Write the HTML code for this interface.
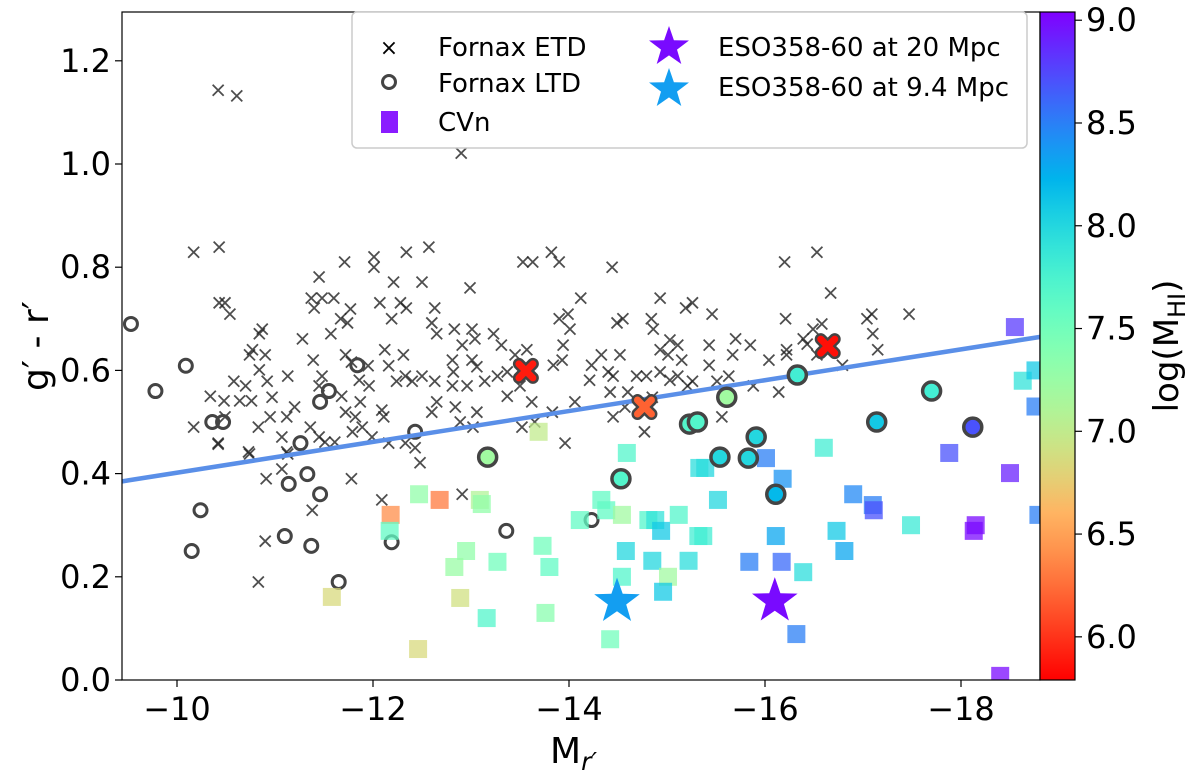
<!DOCTYPE html>
<html><head><meta charset="utf-8"><style>
html,body{margin:0;padding:0;background:#fff}
svg text{font-family:"DejaVu Sans","Liberation Sans",sans-serif;fill:#000}
</style></head><body>
<svg id="chart" width="1200" height="775" xmlns="http://www.w3.org/2000/svg">
<defs><linearGradient id="cbgrad" x1="0" y1="1" x2="0" y2="0"></linearGradient></defs>
<g id="marks"></g>
<rect x="122" y="12" width="918" height="668" fill="none" stroke="#000" stroke-width="1.2"/>
<g id="axes"></g>
<g>
<rect x="352" y="12" width="675" height="136" rx="5" fill="#fff" fill-opacity="0.85" stroke="#ccc" stroke-width="1.5"/>
<g><text x="389" y="55" font-size="22" text-anchor="middle" fill="#333">×</text><text x="438" y="56" font-size="26">Fornax ETD</text></g>
<g><circle cx="389" cy="82" r="6.5" fill="none" stroke="#444" stroke-width="3"/><text x="438" y="92" font-size="26">Fornax LTD</text></g>
<g><rect x="381" y="111" width="17" height="22" fill="#8a1cff"/><text x="438" y="131" font-size="26">CVn</text></g>
<g><polygon id="ls1" fill="#8000ff"/><text x="718" y="56" font-size="26">ESO358-60 at 20 Mpc</text></g>
<g><polygon id="ls2" fill="#1e96f0"/><text x="718" y="96" font-size="26">ESO358-60 at 9.4 Mpc</text></g>
</g>
</svg>
<script>
const etd=[[-10.17,.829],[-10.43,.839],[-10.43,.731],[-10.49,.731],[-10.54,.709],[-10.87,.680],[-10.84,.671],[-10.77,.640],[-10.74,.630],[-10.90,.630],[-10.84,.601],[-10.92,.579],[-10.58,.579],[-10.70,.570],[-10.34,.550],[-10.48,.541],[-10.64,.541],[-10.76,.541],[-10.97,.548],[-10.17,.490],[-10.42,.459],[-10.73,.442],[-10.49,.510],[-10.83,.490],[-10.95,.510],[-11.13,.589],[-11.12,.510],[-11.20,.529],[-11.07,.471],[-11.12,.442],[-11.28,.661],[-11.39,.620],[-11.48,.589],[-11.45,.570],[-11.36,.490],[-11.45,.471],[-11.61,.461],[-11.51,.461],[-11.45,.781],[-11.37,.740],[-11.48,.740],[-11.60,.740],[-11.40,.721],[-11.57,.671],[-11.71,.810],[-11.77,.719],[-11.67,.700],[-11.74,.692],[-11.72,.630],[-11.78,.616],[-11.95,.609],[-11.86,.581],[-11.96,.570],[-11.68,.550],[-11.87,.539],[-11.72,.519],[-11.82,.510],[-11.89,.490],[-11.79,.481],[-11.99,.471],[-12.09,.523],[-12.11,.510],[-12.01,.820],[-12.01,.800],[-12.21,.771],[-12.07,.731],[-12.28,.731],[-12.34,.721],[-12.19,.700],[-12.12,.640],[-12.31,.630],[-12.16,.609],[-12.24,.579],[-12.33,.589],[-12.40,.579],[-12.50,.589],[-12.34,.829],[-12.50,.771],[-12.57,.839],[-12.63,.721],[-12.60,.692],[-12.65,.671],[-12.63,.579],[-12.65,.539],[-12.60,.519],[-12.43,.450],[-12.16,.459],[-12.33,.459],
[-12.99,.760],[-13.53,.810],[-13.63,.810],[-13.82,.829],[-13.90,.810],[-14.44,.800],[-14.12,.740],[-14.93,.740],[-15.19,.721],[-15.26,.731],[-15.46,.709],[-14.49,.692],[-14.55,.700],[-14.84,.700],[-14.86,.680],[-13.90,.700],[-13.99,.709],[-14.01,.680],[-13.94,.649],[-13.93,.620],[-13.84,.610],[-12.83,.680],[-13.01,.680],[-13.23,.671],[-13.31,.649],[-13.57,.640],[-12.91,.649],[-13.04,.661],[-12.81,.620],[-13.01,.620],[-12.82,.597],[-13.06,.607],[-12.81,.570],[-12.96,.570],[-13.14,.579],[-13.27,.589],[-13.37,.597],[-13.37,.550],[-13.45,.630],[-13.50,.570],[-13.62,.539],[-12.84,.529],[-13.06,.519],[-12.89,.500],[-13.02,.490],[-13.52,.490],[-13.65,.500],[-13.83,.519],[-13.96,.459],[-14.06,.539],[-14.23,.610],[-14.33,.630],[-14.21,.581],[-14.40,.597],[-14.45,.589],[-14.42,.558],[-14.45,.510],[-14.52,.630],[-14.60,.558],[-14.57,.529],[-14.69,.589],[-14.79,.589],[-14.93,.597],[-14.85,.548],[-14.77,.481],[-14.93,.640],[-15.03,.659],[-15.11,.649],[-15.01,.630],[-15.15,.620],[-15.03,.581],[-15.11,.589],[-15.21,.570],[-15.26,.579],[-15.43,.649],[-15.43,.610],[-15.51,.579],[-15.63,.589],[-15.67,.630],[-15.70,.661],[-15.85,.649],[-15.88,.570],[-15.56,.510],
[-16.20,.810],[-16.53,.829],[-16.67,.750],[-16.21,.700],[-16.58,.690],[-16.49,.680],[-16.39,.661],[-16.43,.651],[-16.22,.640],[-16.22,.630],[-16.04,.620],[-16.14,.558],[-16.53,.630],[-16.79,.610],[-17.04,.700],[-17.09,.709],[-17.47,.709],[-17.10,.671],[-17.15,.640],
[-10.42,1.143],[-10.61,1.132],[-12.90,1.021],[-10.83,.190],[-10.90,.269],[-11.07,.409],[-11.13,.438],[-10.74,.438],[-10.91,.390],[-11.38,.329],[-11.78,.390],[-10.42,.457],[-12.09,.349],[-12.48,.421],[-12.91,.360]];
const ltdEmpty=[[-9.53,.690],[-10.09,.609],[-9.78,.560],[-10.36,.500],[-10.47,.500],[-11.26,.459],[-11.46,.539],[-11.55,.560],[-11.84,.610],[-12.43,.481],[-10.24,.329],[-10.15,.25],[-11.33,.399],[-11.14,.380],[-11.46,.360],[-11.10,.279],[-11.37,.260],[-11.65,.190],[-12.19,.267],[-13.36,.289],[-14.23,.310]];
const ltdHI=[[-15.61,.548,7.2],[-15.23,.496,7.7],[-15.31,.500,7.7],[-13.17,.432,7.2],[-15.54,.432,8.0],[-15.83,.430,8.0],[-15.91,.471,8.0],[-16.33,.591,7.8],[-17.70,.560,7.8],[-17.14,.500,8.1],[-18.12,.490,8.7],[-14.53,.390,7.7],[-16.11,.360,8.2]];
const etdHI=[[-16.64,.647,5.85],[-13.56,.599,5.9],[-14.77,.529,6.2]];
const cvn=[[-16.60,.450,7.8],[-16.01,.430,8.5],[-16.18,.390,8.4],[-17.88,.440,8.7],[-18.50,.401,8.9],[-16.90,.360,8.45],[-17.10,.339,8.5],[-17.11,.329,8.7],[-15.52,.349,8.0],[-16.73,.289,8.1],[-17.49,.300,7.85],[-18.15,.300,9.0],[-18.13,.289,9.0],[-18.79,.320,8.5],[-16.11,.279,8.3],[-16.81,.250,8.3],[-15.84,.229,8.5],[-16.17,.229,8.6],[-16.39,.209,7.95],[-16.32,.089,8.5],[-18.40,.008,9.0],[-15.37,.279,7.8],[-15.39,.411,8.0],[-18.55,.684,8.8],[-18.63,.58,7.9],[-18.76,.60,8.1],[-18.76,.53,8.5],
[-14.59,.440,7.7],[-15.33,.411,7.95],[-12.47,.360,7.3],[-12.68,.349,6.3],[-13.09,.349,7.1],[-13.11,.341,7.3],[-12.18,.320,6.4],[-12.17,.289,7.6],[-14.33,.349,7.6],[-14.38,.329,7.6],[-14.54,.320,7.2],[-14.11,.310,7.6],[-14.81,.310,7.7],[-14.88,.310,7.9],[-14.94,.289,8.1],[-15.12,.320,7.7],[-15.32,.279,7.8],[-12.95,.250,7.3],[-12.83,.219,7.25],[-13.27,.229,7.5],[-13.73,.260,7.5],[-13.80,.219,7.6],[-14.58,.250,8.0],[-14.85,.231,8.0],[-15.22,.231,7.95],[-14.54,.200,7.7],[-15.01,.200,7.2],[-14.96,.171,8.1],[-12.89,.159,6.9],[-13.16,.120,7.7],[-13.76,.130,7.35],[-14.42,.079,7.5],[-12.46,.060,6.85],[-11.58,.161,6.85],[-13.69,.481,7.0]];
const stars=[[-16.10,.153,9.0],[-14.49,.152,8.35]];
const fitM=[-9.44,-18.81];
const fitV=[0.385,0.665];
const xTicks=[-10,-12,-14,-16,-18];
const yTicks=[0,0.2,0.4,0.6,0.8,1.0,1.2];
const cbTicks=[6.0,6.5,7.0,7.5,8.0,8.5,9.0];
const cbMin=5.79, cbMax=9.04;

const NS="http://www.w3.org/2000/svg";
const X=m=>177+(-10-m)*98;
const Y=v=>680-v*516;
const CY=h=>680-(h-cbMin)/(cbMax-cbMin)*668;
function cmap(h){let t=(h-cbMin)/(cbMax-cbMin);t=Math.max(0,Math.min(1,t));const x=1-t;
 const r=Math.min(1,Math.abs(2*x-0.5)),g=Math.sin(Math.PI*x),b=Math.cos(Math.PI*x/2);
 return `rgb(${Math.round(r*255)},${Math.round(g*255)},${Math.round(Math.max(0,b)*255)})`;}
function mk(tag,attrs,parent){const e=document.createElementNS(NS,tag);for(const k in attrs)e.setAttribute(k,attrs[k]);parent.appendChild(e);return e;}
function starPts(cx,cy,R){const r=R*0.4;let p=[];for(let i=0;i<10;i++){const a=-Math.PI/2+i*Math.PI/5;const rr=i%2?r:R;p.push((cx+rr*Math.cos(a)).toFixed(1)+","+(cy+rr*Math.sin(a)).toFixed(1));}return p.join(" ");}
const G=document.getElementById('marks');
const A=document.getElementById('axes');
const cp=mk('clipPath',{id:'pc'},document.querySelector('defs'));mk('rect',{x:122,y:12,width:918,height:668},cp);
const PG=mk('g',{'clip-path':'url(#pc)'},G);
etd.forEach(d=>{const x=X(d[0]),y=Y(d[1]);
 const p=mk('path',{d:`M${x-5.5},${y-5.5}L${x+5.5},${y+5.5}M${x-5.5},${y+5.5}L${x+5.5},${y-5.5}`,stroke:'#222','stroke-opacity':0.8,'stroke-width':1.8},PG);
 
 });
ltdEmpty.forEach(d=>{const c=mk('circle',{cx:X(d[0]),cy:Y(d[1]),r:6.5,fill:'none',stroke:'#444','stroke-width':3},PG);
 
 });
const fl=mk('line',{x1:X(fitM[0]),y1:Y(fitV[0]),x2:X(fitM[1]),y2:Y(fitV[1]),stroke:'#5a8fe8','stroke-width':4.5},PG);


cvn.forEach(d=>{const s=mk('rect',{x:X(d[0])-9,y:Y(d[1])-9,width:18,height:18,fill:cmap(d[2]),'fill-opacity':0.75},PG);
 
 });
ltdHI.forEach(d=>{const c=mk('circle',{cx:X(d[0]),cy:Y(d[1]),r:9,fill:cmap(d[2]),stroke:'#444','stroke-width':3.5},PG);
 
 });
etdHI.forEach(d=>{const x=X(d[0]),y=Y(d[1]);
 const o=mk('path',{d:`M${x-7},${y-7}L${x+7},${y+7}M${x-7},${y+7}L${x+7},${y-7}`,stroke:'#444','stroke-width':12,'stroke-linecap':'round'},PG);
 
 
 const p=mk('path',{d:`M${x-7},${y-7}L${x+7},${y+7}M${x-7},${y+7}L${x+7},${y-7}`,stroke:cmap(d[2]),'stroke-width':7,'stroke-linecap':'round'},PG);
 
 });
stars.forEach(d=>{const s=mk('polygon',{points:starPts(X(d[0]),Y(d[1]),24),fill:cmap(d[2])},PG);
 
 });
document.getElementById('ls1').setAttribute('points',starPts(669,47,21));
document.getElementById('ls2').setAttribute('points',starPts(669,89,21));
document.getElementById('ls1').setAttribute('fill',cmap(9.0));
document.getElementById('ls2').setAttribute('fill',cmap(8.35));
xTicks.forEach(t=>{const x=X(t);mk('line',{x1:x,y1:680,x2:x,y2:687,stroke:'#000','stroke-width':1.2},A);
 const tx=mk('text',{x:x,y:720,'font-size':32,'text-anchor':'middle'},A);tx.textContent='\u2212'+Math.abs(t);
 
 });
yTicks.forEach(t=>{const y=Y(t);mk('line',{x1:115,y1:y,x2:122,y2:y,stroke:'#000','stroke-width':1.2},A);
 const tx=mk('text',{x:111,y:y+11,'font-size':32,'text-anchor':'end'},A);tx.textContent=t.toFixed(1);
 
 });
const xl=mk('text',{x:550,y:763,'font-size':36},A);xl.innerHTML='M<tspan font-size="25" dy="7" font-style="italic">r\u2032</tspan>';


const yl=mk('text',{x:0,y:0,'font-size':36,'text-anchor':'middle',transform:'translate(48,346) rotate(-90)'},A);yl.textContent='g\u2032 - r\u2032';


const gr=document.getElementById('cbgrad');
for(let i=0;i<=20;i++){const h=cbMin+(cbMax-cbMin)*i/20;mk('stop',{offset:(i/20),'stop-color':cmap(h)},gr);}
const cb=mk('rect',{x:1040,y:12,width:35,height:668,fill:'url(#cbgrad)',stroke:'#000','stroke-width':1.2},A);


cbTicks.forEach(t=>{const y=CY(t);mk('line',{x1:1075,y1:y,x2:1082,y2:y,stroke:'#000','stroke-width':1.2},A);
 const tx=mk('text',{x:1086,y:y+11,'font-size':32},A);tx.textContent=t.toFixed(1);
 
 });
const cl=mk('text',{x:0,y:0,'font-size':34,'text-anchor':'middle',transform:'translate(1178,346) rotate(-90)'},A);cl.innerHTML='log(M<tspan font-size="24" dy="7">HI</tspan><tspan dy="-7">)</tspan>';


</script>
</body></html>
